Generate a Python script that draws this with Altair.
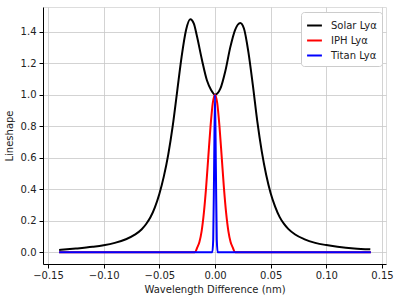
import altair as alt
import pandas as pd

# Solar Lyα lineshape
solar_x = [-0.140, -0.125, -0.110, -0.100, -0.090, -0.080, -0.072, -0.066, -0.062,
           -0.058, -0.054, -0.050, -0.046, -0.042, -0.038, -0.034, -0.030, -0.026,
           -0.0222, -0.019, -0.0162, -0.0117, -0.0072, -0.0035, 0.0,
           0.0048, 0.0093, 0.0137, 0.018, 0.0227, 0.026, 0.030, 0.034, 0.038,
           0.042, 0.046, 0.050, 0.054, 0.058, 0.062, 0.066, 0.072, 0.080,
           0.090, 0.100, 0.110, 0.125, 0.1395]
solar_y = [0.015, 0.024, 0.035, 0.045, 0.060, 0.083, 0.112, 0.145, 0.178,
           0.222, 0.285, 0.37, 0.48, 0.62, 0.80, 1.02, 1.24, 1.41,
           1.478, 1.45, 1.37, 1.22, 1.09, 1.03, 1.0,
           1.038, 1.15, 1.30, 1.41, 1.455, 1.42, 1.27, 1.06, 0.83,
           0.64, 0.49, 0.375, 0.29, 0.225, 0.18, 0.147, 0.113, 0.084,
           0.060, 0.046, 0.036, 0.025, 0.019]

# IPH Lyα
iph_x = [-0.140, -0.018, -0.016, -0.014, -0.012, -0.010, -0.008, -0.006, -0.004, -0.002, 0.0,
         0.002, 0.004, 0.006, 0.008, 0.010, 0.012, 0.014, 0.016, 0.018, 0.140]
iph_y = [0.0, 0.0, 0.03, 0.066, 0.135, 0.25, 0.41, 0.607, 0.80, 0.946, 1.0,
         0.946, 0.80, 0.607, 0.41, 0.25, 0.135, 0.066, 0.03, 0.0, 0.0]

# Titan Lyα
titan_x = [-0.140, -0.0024, -0.0016, -0.0008, 0.0, 0.0008, 0.0016, 0.0024, 0.140]
titan_y = [0.0, 0.0, 0.08, 0.53, 1.0, 0.53, 0.08, 0.0, 0.0]

series = ["Solar Lyα", "IPH Lyα", "Titan Lyα"]
colors = ["#000000", "#ff0000", "#0000ff"]

df_s = pd.DataFrame({"x": solar_x, "y": solar_y, "s": series[0]})
df_i = pd.DataFrame({"x": iph_x, "y": iph_y, "s": series[1]})
df_t = pd.DataFrame({"x": titan_x, "y": titan_y, "s": series[2]})

xs = alt.Scale(domain=[-0.1545, 0.1536], nice=False, zero=False)
ys = alt.Scale(domain=[-0.074, 1.556], nice=False, zero=False)
cs = alt.Scale(domain=series, range=colors)

xax = alt.Axis(values=[-0.15, -0.10, -0.05, 0.0, 0.05, 0.10, 0.15], format=".2f",
               title="Wavelength Difference (nm)", titleFontWeight="normal",
               titleFontSize=10, labelFontSize=10, tickSize=4, labelPadding=2,
               titlePadding=4, gridColor="#c8c8c8", gridWidth=0.8,
               domainColor="#000", tickColor="#000", labelColor="#222", titleColor="#222")
yax = alt.Axis(values=[0.0, 0.2, 0.4, 0.6, 0.8, 1.0, 1.2, 1.4], format=".1f",
               title="Lineshape", titleFontWeight="normal",
               titleFontSize=10, labelFontSize=10, tickSize=4, labelPadding=3,
               titlePadding=6, gridColor="#c8c8c8", gridWidth=0.8,
               domainColor="#000", tickColor="#000", labelColor="#222", titleColor="#222")

legend = alt.Legend(title=None, orient="none", legendX=258, legendY=5,
                    symbolType="stroke", symbolStrokeWidth=2, symbolSize=220,
                    labelFontSize=10, labelColor="#222", fillColor="white",
                    strokeColor="#cccccc", cornerRadius=3, padding=5,
                    rowPadding=1, labelOffset=8)

def line(df):
    return alt.Chart(df).mark_line(strokeWidth=2, interpolate="monotone").encode(
        x=alt.X("x:Q", scale=xs, axis=xax),
        y=alt.Y("y:Q", scale=ys, axis=yax),
        color=alt.Color("s:N", scale=cs, legend=legend),
    )

chart = alt.layer(line(df_s), line(df_i), line(df_t)).properties(
    width=343, height=257,
    autosize=alt.AutoSizeParams(type="none"),
    padding={"left": 43, "top": 7, "right": 14, "bottom": 37},
).configure_view(stroke="#000", strokeWidth=1).configure(font="DejaVu Sans")

chart.save("out.html", embed_options={"renderer": "svg", "actions": False})
